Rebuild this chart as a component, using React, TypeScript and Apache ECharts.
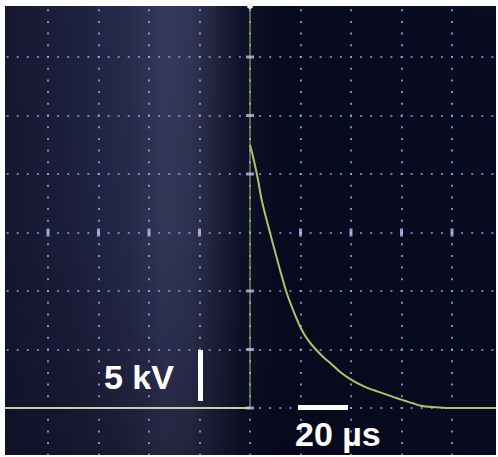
import React, { useEffect, useRef } from "react";
import * as echarts from "echarts";

// Time axis (µs) and voltage axis (kV)
const timeTicks = [-100, -80, -60, -40, -20, 0, 20, 40, 60, 80, 100];
const voltTicks = [-5, 0, 5, 10, 15, 20, 25, 30, 35];

// Trace: [time µs, voltage kV]
const baselineBefore: [number, number][] = [
  [-100, 0],
  [0, 0],
];
const riseEdge: [number, number][] = [
  [0, 0],
  [0, 36],
];
const decayTrace: [number, number][] = [
  [0, 22.5],
  [1.5, 21.2],
  [3.0, 19.7],
  [4.8, 17.6],
  [7.9, 15.0],
  [10.5, 12.9],
  [14.3, 10.0],
  [17.2, 8.3],
  [20.2, 6.8],
  [23.0, 5.8],
  [26.1, 5.0],
  [29.3, 4.3],
  [32.5, 3.7],
  [35.6, 3.1],
  [38.8, 2.6],
  [42.7, 2.1],
  [46.7, 1.7],
  [50.7, 1.4],
  [54.7, 1.1],
  [58.0, 0.85],
  [61.4, 0.62],
  [64.5, 0.4],
  [67.7, 0.2],
  [72.0, 0.08],
  [76.0, 0.03],
  [80.0, 0],
  [100, 0],
];

// Bright centre-axis graticule marks
const centreRowMarks = [-80, -60, -40, -20, 20, 40, 60, 80];
const centreColMarks = [-5, 0, 5, 10, 20, 25, 30];
const centreRowLevel = 15;
const centreColTime = 0;

const voltLabel = "5 kV";
const timeLabel = "20 µs";

// chart canvas is shifted so the graticule may extend past the photo edge
const OX = 3;
const OY = 2;

export default function App() {
  const ref = useRef<HTMLDivElement>(null);
  useEffect(() => {
    if (!ref.current) return;
    const chart = echarts.init(ref.current, null, { renderer: "svg" });
    const dotColor = "rgba(150,166,240,0.95)";
    chart.setOption({
      animation: false,
      grid: { left: 0.5, top: 0.5, width: 505, height: 468, containLabel: false },
      xAxis: {
        type: "value",
        min: timeTicks[0],
        max: timeTicks[timeTicks.length - 1],
        interval: 20,
        axisLine: { show: false },
        axisTick: { show: false },
        axisLabel: { show: false },
        splitLine: {
          show: true,
          lineStyle: { color: dotColor, width: 1.7, type: [2, 9.7], dashOffset: 1 },
        },
      },
      yAxis: {
        type: "value",
        min: voltTicks[0],
        max: voltTicks[voltTicks.length - 1],
        interval: 5,
        axisLine: { show: false },
        axisTick: { show: false },
        axisLabel: { show: false },
        splitLine: {
          show: true,
          lineStyle: { color: dotColor, width: 1.7, type: [2, 8.1], dashOffset: 1 },
        },
      },
      graphic: [
        {
          type: "rect",
          z: -10,
          shape: { x: 0, y: 0, width: 510, height: 472 },
          style: {
            fill: new echarts.graphic.LinearGradient(0, 0, 1, 0, [
              { offset: 0, color: "#161831" },
              { offset: 0.15, color: "#1f2141" },
              { offset: 0.26, color: "#2b2d50" },
              { offset: 0.33, color: "#3a3c61" },
              { offset: 0.38, color: "#35375b" },
              { offset: 0.43, color: "#22243f" },
              { offset: 0.48, color: "#10122a" },
              { offset: 0.55, color: "#080a1e" },
              { offset: 1, color: "#0a0d22" },
            ]),
          },
        },
        {
          type: "rect",
          z: -9,
          shape: { x: 0, y: 0, width: 510, height: 472 },
          style: {
            fill: new echarts.graphic.LinearGradient(0, 0, 0, 1, [
              { offset: 0, color: "rgba(6,8,24,0.05)" },
              { offset: 0.5, color: "rgba(6,8,24,0.12)" },
              { offset: 1, color: "rgba(6,8,24,0.45)" },
            ]),
          },
        },
        // white photo border
        { type: "rect", z: 100, shape: { x: 0, y: 0, width: 510, height: 6 + OY }, style: { fill: "#ffffff" } },
        { type: "rect", z: 100, shape: { x: 0, y: 0, width: 5 + OX, height: 472 }, style: { fill: "#ffffff" } },
        { type: "rect", z: 100, shape: { x: 496 + OX, y: 0, width: 20, height: 472 }, style: { fill: "#ffffff" } },
        { type: "rect", z: 100, shape: { x: 0, y: 455 + OY, width: 510, height: 20 }, style: { fill: "#ffffff" } },
        // trigger marker
        { type: "circle", z: 101, shape: { cx: 250 + OX, cy: 6 + OY, r: 3 }, style: { fill: "#f4f2e8" } },
        // scale bars and labels
        { type: "rect", z: 50, shape: { x: 198 + OX, y: 350 + OY, width: 5, height: 51 }, style: { fill: "#ffffff" } },
        { type: "rect", z: 50, shape: { x: 298 + OX, y: 405 + OY, width: 50, height: 5 }, style: { fill: "#ffffff" } },
        {
          type: "text",
          z: 50,
          x: 104 + OX,
          y: 377 + OY,
          style: {
            text: voltLabel,
            fill: "#ffffff",
            font: "bold 34px 'Liberation Sans', Arial, sans-serif",
            verticalAlign: "middle",
            align: "left",
          },
        },
        {
          type: "text",
          z: 50,
          x: 295 + OX,
          y: 434 + OY,
          style: {
            text: timeLabel,
            fill: "#ffffff",
            font: "bold 34px 'Liberation Sans', Arial, sans-serif",
            verticalAlign: "middle",
            align: "left",
          },
        },
      ],
      series: [
        {
          type: "scatter",
          symbol: "rect",
          symbolSize: [3, 8],
          silent: true,
          itemStyle: { color: "#b4c0f4" },
          data: centreRowMarks.map((t) => [t, centreRowLevel]),
          z: 1,
        },
        {
          type: "scatter",
          symbol: "rect",
          symbolSize: [8, 3],
          silent: true,
          itemStyle: { color: "#b4c0f4" },
          data: centreColMarks.map((v) => [centreColTime, v]),
          z: 1,
        },
        {
          type: "line",
          data: riseEdge,
          showSymbol: false,
          lineStyle: { color: "rgba(170,196,120,0.65)", width: 1.5 },
          z: 3,
        },
        {
          type: "line",
          data: baselineBefore,
          showSymbol: false,
          lineStyle: { color: "#c2d3a2", width: 2 },
          z: 4,
        },
        {
          type: "line",
          data: decayTrace,
          showSymbol: false,
          smooth: 0.3,
          lineStyle: { color: "#aec26c", width: 2 },
          z: 4,
        },
      ],
    });
    return () => chart.dispose();
  }, []);
  return (
    <div
      style={{
        position: "fixed",
        left: 0,
        top: 0,
        width: 498,
        height: 457,
        overflow: "hidden",
        background: "#ffffff",
      }}
    >
      <div
        ref={ref}
        style={{ position: "absolute", left: -OX, top: -OY, width: 506, height: 469 }}
      />
    </div>
  );
}
